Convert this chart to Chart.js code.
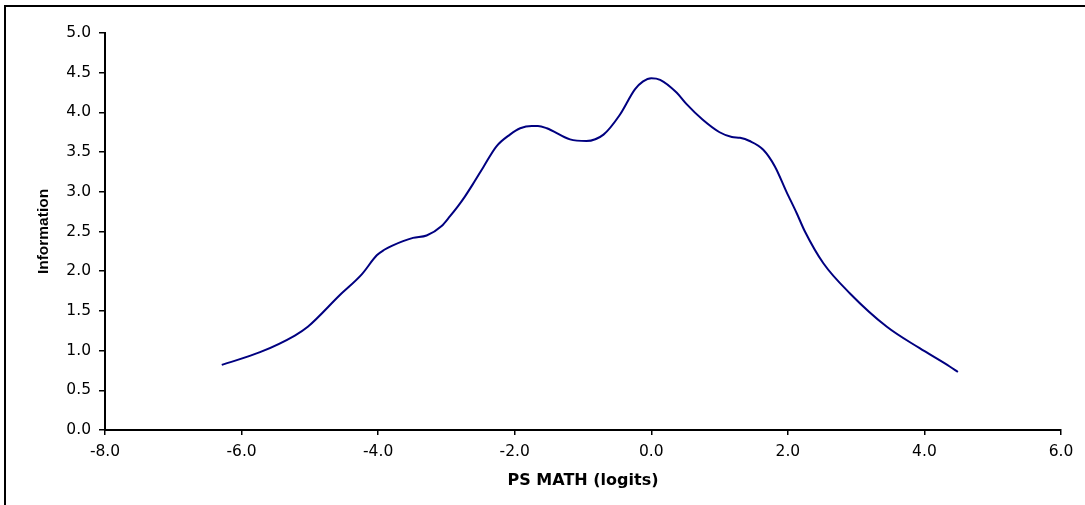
<!DOCTYPE html>
<html>
<head>
<meta charset="utf-8">
<script src="https://cdn.jsdelivr.net/npm/chart.js@4.4.1/dist/chart.umd.min.js"></script>
<style>
  html, body { margin: 0; padding: 0; background: #ffffff; }
  #wrap { width: 1085px; height: 505px; position: relative; }
</style>
</head>
<body>
<div id="wrap"><canvas id="chart" width="1085" height="505"></canvas></div>
<script>
// Test information function across the ability scale
const abilityLogits = [
  -6.29, -5.73, -5.22, -5.03, -4.56, -4.24, -4.02, -3.91, -3.80, -3.49,
  -3.29, -3.07, -2.95, -2.83, -2.73, -2.61, -2.46, -2.27, -2.07, -1.92,
  -1.75, -1.66, -1.53, -1.19, -0.95, -0.70, -0.46, -0.24, -0.12, 0.00,
   0.13,  0.37,  0.51,  0.75,  1.00,  1.18,  1.30,  1.44,  1.64,  1.81,
   1.98,  2.13,  2.25,  2.52,  2.91,  3.45,  3.93,  4.37,  4.49
];
const information = [
  0.82, 0.98, 1.19, 1.30, 1.70, 1.96, 2.20, 2.27, 2.32, 2.42,
  2.45, 2.57, 2.69, 2.82, 2.94, 3.10, 3.31, 3.57, 3.72, 3.80,
  3.83, 3.83, 3.80, 3.66, 3.64, 3.72, 3.97, 4.29, 4.39, 4.43,
  4.41, 4.25, 4.11, 3.91, 3.75, 3.69, 3.68, 3.64, 3.53, 3.32,
  3.00, 2.73, 2.50, 2.10, 1.72, 1.30, 1.03, 0.80, 0.73
];
const xTickValues = [-8, -6, -4, -2, 0, 2, 4, 6];
const yTickValues = [0, 0.5, 1, 1.5, 2, 2.5, 3, 3.5, 4, 4.5, 5];
const xTitle = 'PS MATH (logits)';
const yTitle = 'Information';

const points = abilityLogits.map((x, i) => ({ x: x, y: information[i] }));

// Frame around the figure: only its top and left edges fall inside the canvas
const framePlugin = {
  id: 'frame',
  beforeDraw(chart) {
    const ctx = chart.ctx;
    ctx.save();
    ctx.fillStyle = '#ffffff';
    ctx.fillRect(0, 0, chart.width, chart.height);
    ctx.strokeStyle = '#000000';
    ctx.lineWidth = 2;
    ctx.beginPath();
    ctx.moveTo(5, chart.height);
    ctx.lineTo(5, 6);
    ctx.lineTo(chart.width, 6);
    ctx.stroke();
    ctx.restore();
  }
};

const tickFont = { family: 'DejaVu Sans', size: 15.5 };

new Chart(document.getElementById('chart'), {
  type: 'line',
  data: {
    datasets: [{
      data: points,
      borderColor: '#000080',
      borderWidth: 2,
      pointRadius: 0,
      fill: false,
      cubicInterpolationMode: 'monotone'
    }]
  },
  options: {
    responsive: false,
    animation: false,
    devicePixelRatio: 1,
    layout: { padding: { left: 0, top: 33, right: 24, bottom: 0 } },
    plugins: { legend: { display: false }, tooltip: { enabled: false } },
    scales: {
      x: {
        type: 'linear',
        min: -8, max: 6,
        afterBuildTicks(scale) { scale.ticks = xTickValues.map(v => ({ value: v })); },
        afterFit(scale) { scale.height = 75; },
        ticks: {
          color: '#000000', font: tickFont, padding: 8, maxRotation: 0,
          callback: v => Number(v).toFixed(1)
        },
        grid: { drawOnChartArea: false, drawTicks: true, tickLength: 5, color: '#000000', lineWidth: 1.5 },
        border: { display: true, color: '#000000', width: 2 },
        title: {
          display: true, text: xTitle, color: '#000000',
          font: { family: 'DejaVu Sans', size: 16, weight: 'bold' },
          padding: { top: 0, bottom: 15 }
        }
      },
      y: {
        type: 'linear',
        min: 0, max: 5,
        afterBuildTicks(scale) { scale.ticks = yTickValues.map(v => ({ value: v })); },
        afterFit(scale) { scale.width = 105; },
        ticks: {
          color: '#000000', font: tickFont, padding: 8,
          callback: v => Number(v).toFixed(1)
        },
        grid: { drawOnChartArea: false, drawTicks: true, tickLength: 6, color: '#000000', lineWidth: 1.5 },
        border: { display: true, color: '#000000', width: 2 },
        title: {
          display: true, text: yTitle, color: '#000000',
          font: { family: 'Liberation Sans', size: 15.5, weight: 'bold' },
          padding: { top: 34, bottom: 0 }
        }
      }
    }
  },
  plugins: [framePlugin]
});
</script>
</body>
</html>
